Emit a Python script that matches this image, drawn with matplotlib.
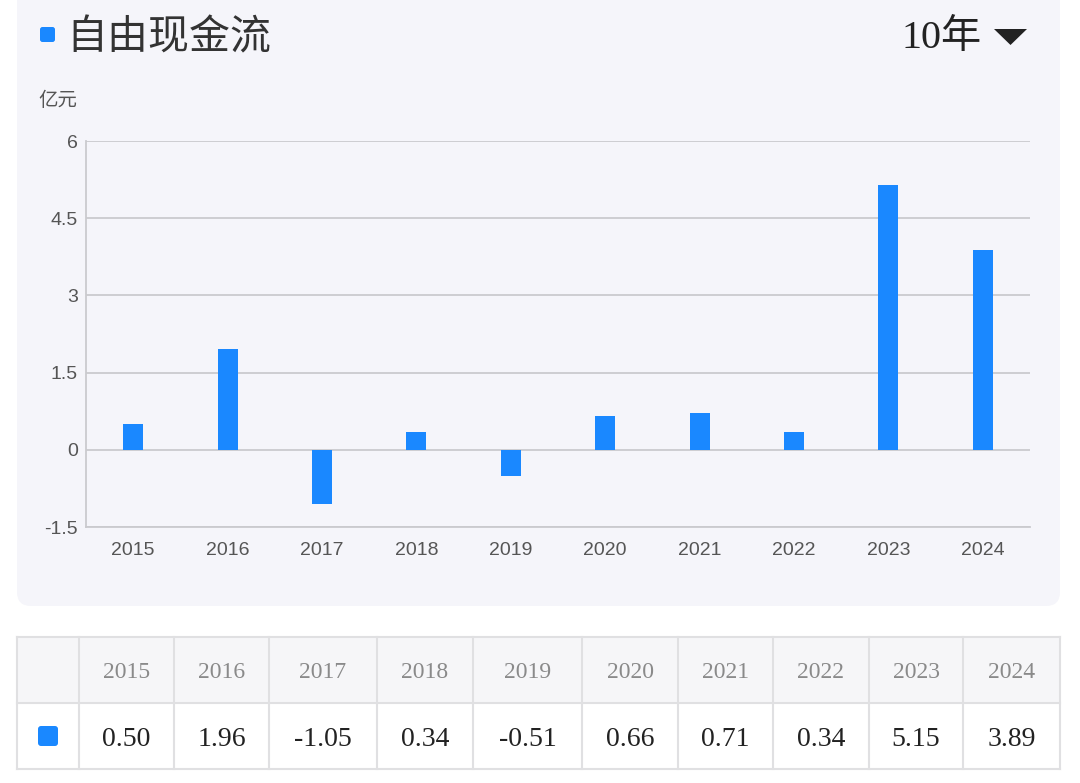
import matplotlib.pyplot as plt
from matplotlib.patches import FancyBboxPatch, Rectangle, Polygon

# 数据
years = ['2015', '2016', '2017', '2018', '2019', '2020', '2021', '2022', '2023', '2024']
fcf = [0.50, 1.96, -1.05, 0.34, -0.51, 0.66, 0.71, 0.34, 5.15, 3.89]
yticks = [-1.5, 0, 1.5, 3, 4.5, 6]
ytick_labels = ['-1.5', '0', '1.5', '3', '4.5', '6']

title = '自由现金流'
unit = '亿元'
period = '10年'

BLUE = '#1a88ff'
PANEL = '#f5f5fa'
CJK = ['Noto Sans CJK SC', 'DejaVu Sans']
SERIF = ['Liberation Serif', 'Noto Sans CJK SC']

W, H = 1080, 783
fig = plt.figure(figsize=(W / 100, H / 100), dpi=100)
fig.patch.set_facecolor('white')

# 背景层：像素坐标
bg = fig.add_axes([0, 0, 1, 1])
bg.set_xlim(0, W)
bg.set_ylim(H, 0)
bg.axis('off')

bg.add_patch(FancyBboxPatch((17, -20), 1043, 626, boxstyle='round,pad=0,rounding_size=14',
                            fc=PANEL, ec='none'))

# 标题
bg.add_patch(FancyBboxPatch((40, 27), 15, 15, boxstyle='round,pad=0,rounding_size=2.5',
                            fc=BLUE, ec='none'))
bg.text(66, 38, title, fontsize=29.5, color='#333333', family=CJK, va='center', ha='left')
bg.text(982, 38, period, fontsize=29, color='#222222', family=SERIF, va='center', ha='right')
bg.add_patch(Polygon([(994, 29), (1027, 29), (1010.5, 45)], closed=True, fc='#222222', ec='none'))
bg.text(38, 101, unit, fontsize=14, color='#555555', family=CJK, va='center', ha='left')

# 柱状图
ax = fig.add_axes([86 / W, (H - 527) / H, 944 / W, 386 / H])
ax.set_facecolor('none')
x = list(range(len(years)))
ax.bar(x, fcf, width=0.21, color=BLUE, zorder=3)
ax.set_xlim(-0.5, len(years) - 0.5)
ax.set_ylim(-1.5, 6)
ax.set_yticks(yticks)
ax.set_yticklabels(ytick_labels)
ax.set_xticks(x)
ax.set_xticklabels(years)
ax.grid(axis='y', color='#cacace', linewidth=1.3, zorder=0)
for s in ['top', 'right']:
    ax.spines[s].set_visible(False)
for s in ['left', 'bottom']:
    ax.spines[s].set_color('#cacace')
    ax.spines[s].set_linewidth(1.3)
ax.tick_params(axis='both', length=0, labelsize=14, labelcolor='#555555')
ax.tick_params(axis='y', pad=6)
ax.tick_params(axis='x', pad=11)
for lab in ax.get_xticklabels() + ax.get_yticklabels():
    lab.set_family(['Liberation Sans', 'DejaVu Sans'])

# 下方表格
col_edges = [17, 79, 174, 269, 377, 473, 582, 678, 773, 869, 963, 1060]
row_edges = [637, 703, 769]
bg.add_patch(Rectangle((col_edges[0], row_edges[0]), col_edges[-1] - col_edges[0],
                       row_edges[1] - row_edges[0], fc='#f6f6f8', ec='none'))
for cx in col_edges:
    bg.plot([cx, cx], [row_edges[0], row_edges[-1]], color='#e0e0e2', lw=1.5)
for ry in row_edges:
    bg.plot([col_edges[0], col_edges[-1]], [ry, ry], color='#e0e0e2', lw=1.5)

hy = (row_edges[0] + row_edges[1]) / 2 + 2
dy = (row_edges[1] + row_edges[2]) / 2 + 3
for i, (yr, v) in enumerate(zip(years, fcf)):
    cx = (col_edges[i + 1] + col_edges[i + 2]) / 2
    bg.text(cx, hy, yr, fontsize=17, color='#8a8a8a', family=SERIF, ha='center', va='center')
    bg.text(cx, dy, f'{v:.2f}', fontsize=20, color='#222222', family=SERIF,
            ha='center', va='center')
bg.add_patch(FancyBboxPatch((38, 726), 20, 20, boxstyle='round,pad=0,rounding_size=3',
                            fc=BLUE, ec='none'))

fig.savefig('out.png', dpi=100, facecolor='white')
